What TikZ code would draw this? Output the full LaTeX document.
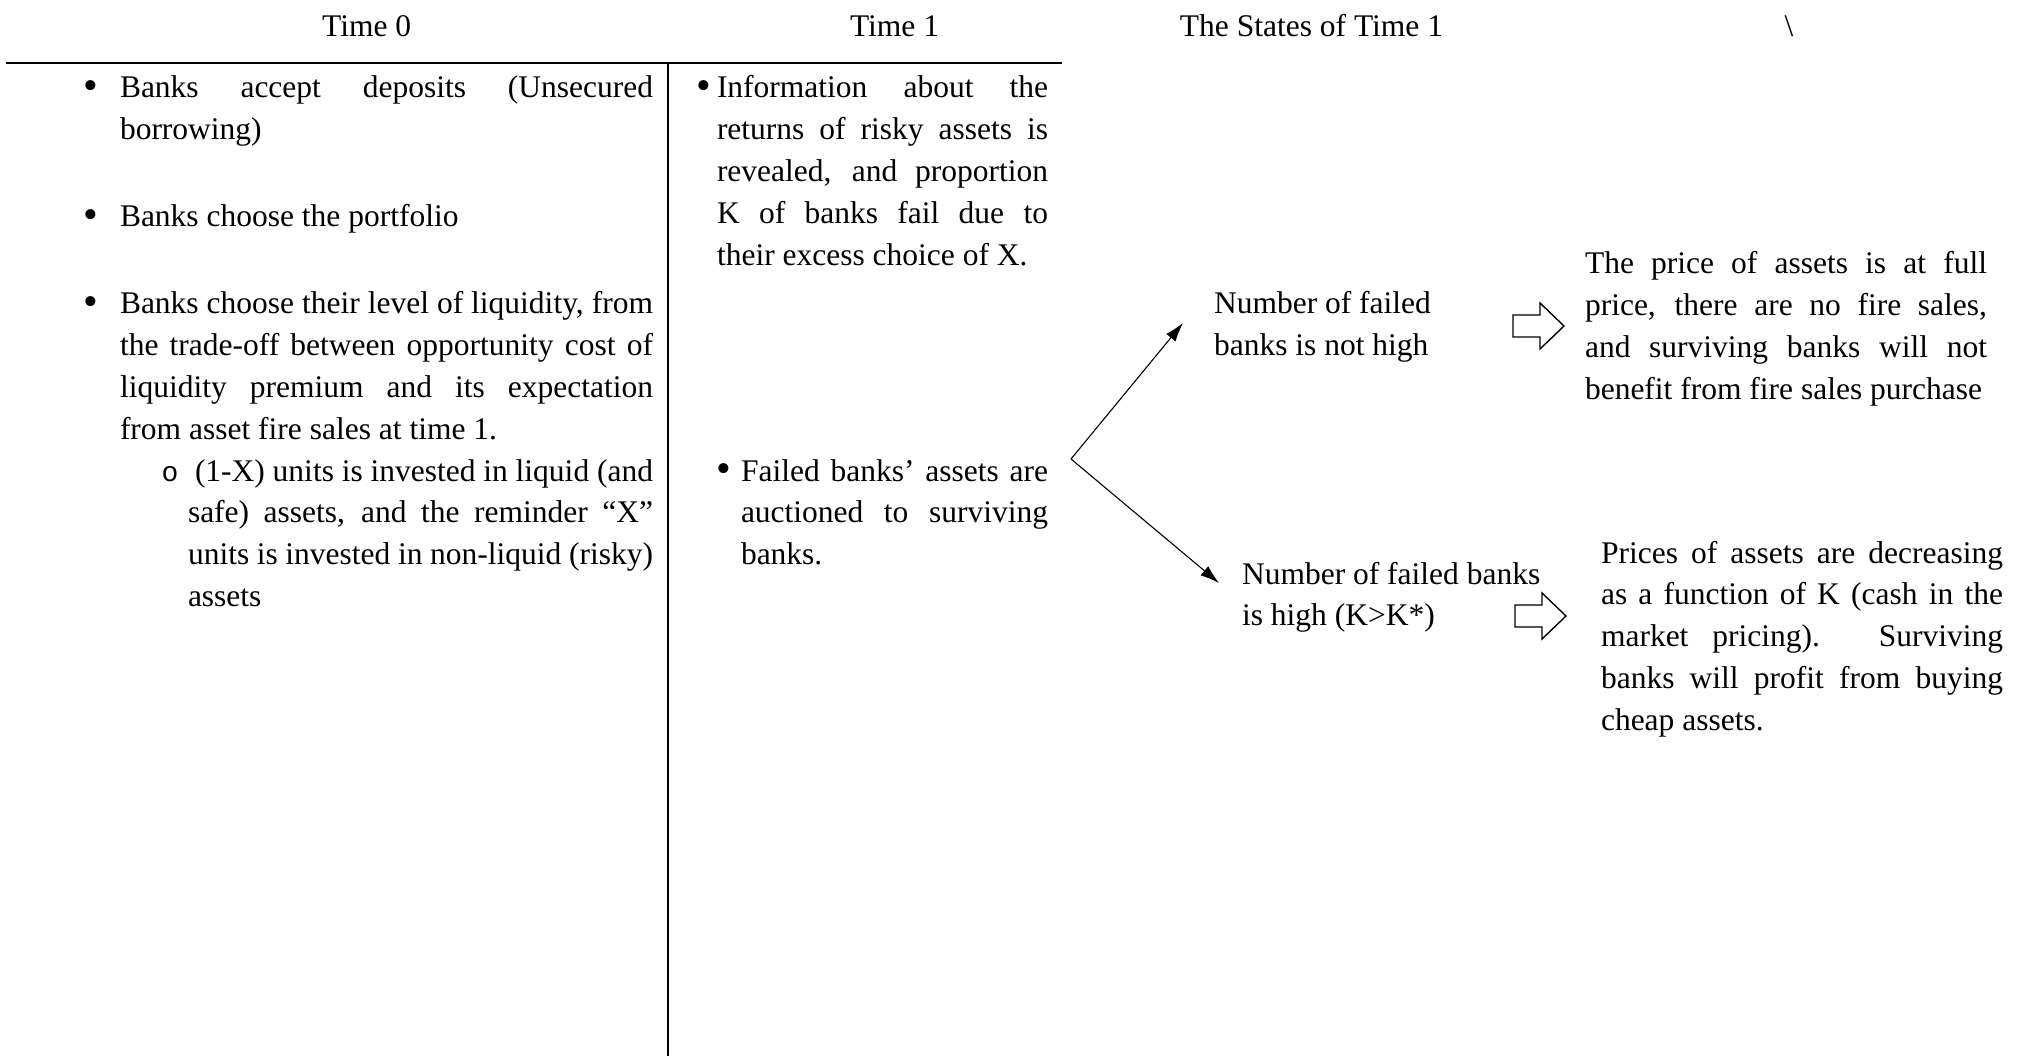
\documentclass[tikz,border=0pt]{standalone}
\usepackage{fontspec}
\setmainfont{Liberation Serif}
\newfontfamily\markfont{Liberation Mono}
\usetikzlibrary{arrows.meta}

% body text size and line pitch
\newcommand\bodysize{\fontsize{31.5}{41.8}\selectfont}
% justified paragraph of a given width, baseline on its first line
\newcommand\jpar[2]{\parbox[t]{#1}{\hyphenpenalty=10000\exhyphenpenalty=10000%
  \tolerance=10000\hbadness=10000 #2}}

\begin{document}
\begin{tikzpicture}[x=1pt,y=-1pt,
  every node/.style={inner sep=0pt, outer sep=0pt, font=\bodysize},
  head/.style={anchor=base},
  para/.style={anchor=base west},
  dot/.style={anchor=center, font=\fontsize{42}{42}\selectfont},
  ring/.style={anchor=base, font={\markfont\fontsize{28}{28}\selectfont}},
  rule/.style={line width=2.4pt},
  colrule/.style={line width=2pt},
  branch/.style={line width=1.1pt, -{Latex[length=19pt,width=12pt]}},
  blockarrow/.pic={\draw[line width=1.4pt, line join=miter]
    (0,-11) -- (27,-11) -- (27,-23) -- (51,0) -- (27,23) -- (27,11) -- (0,11) -- cycle;}
]
\useasboundingbox (0,0) rectangle (2024,1056);

% column headings
\node[head] (h0) at (366.6,37) {Time 0};
\node[head] (h1) at (894.5,37) {Time 1};
\node[head] (h2) at (1311.5,37) {The States of Time 1};
\node[head] (h3) at (1789,37) {\textbackslash};

% table rules
\coordinate (ruleL) at (6,63);
\coordinate (ruleR) at (1062,63);
\draw[rule] (ruleL) -- (ruleR);
\coordinate (colTop) at (668,63);
\coordinate (colBot) at (668,1056);
\draw[colrule] (colTop) -- (colBot);

% time 0
\node[dot] (b1) at (91,90) {•};
\node[para] (p1) at (120,98) {\jpar{533pt}{Banks accept deposits (Unsecured\linebreak borrowing)}};
\node[dot] (b2) at (91,219) {•};
\node[para] (p2) at (120,227) {\jpar{533pt}{Banks choose the portfolio}};
\node[dot] (b3) at (91,306) {•};
\node[para] (p3) at (120,314) {\jpar{533pt}{Banks choose their level of liquidity, from\linebreak
  the trade-off between opportunity cost of\linebreak
  liquidity premium and its expectation\linebreak
  from asset fire sales at time 1.}};
\node[ring] (s1) at (170,481) {o};
\node[para] (p4) at (188,481) {\jpar{465pt}{\hspace*{7pt}(1-X) units is invested in liquid (and\linebreak
  safe) assets, and the reminder “X”\linebreak
  units is invested in non-liquid (risky)\linebreak
  assets}};

% time 1
\node[dot] (b5) at (704,90) {•};
\node[para] (p5) at (717,98) {\jpar{331pt}{Information about the\linebreak
  returns of risky assets is\linebreak
  revealed, and proportion\linebreak
  K of banks fail due to\linebreak
  their excess choice of X.}};
\node[dot] (b6) at (724,473) {•};
\node[para] (p6) at (741,481) {\jpar{307pt}{Failed banks’ assets are\linebreak
  auctioned to surviving\linebreak
  banks.}};

% states of time 1
\node[para] (n1) at (1214,314) {\jpar{330pt}{Number of failed\\banks is not high}};
\node[para] (n2) at (1242,584) {\jpar{330pt}{Number of failed banks\\is high (K>K*)}};

\node[para] (r1) at (1585,274) {\jpar{402pt}{The price of assets is at full\linebreak
  price, there are no fire sales,\linebreak
  and surviving banks will not\linebreak
  benefit from fire sales purchase}};
\node[para] (r2) at (1601,563) {\jpar{402pt}{Prices of assets are decreasing\linebreak
  as a function of K (cash in the\linebreak
  market pricing). Surviving\linebreak
  banks will profit from buying\linebreak
  cheap assets.}};

% branching arrows
\coordinate (fork) at (1071,459);
\coordinate (tipUp) at (1183,323);
\coordinate (tipDown) at (1219,583);
\draw[branch] (fork) -- (tipUp);
\draw[branch] (fork) -- (tipDown);

% outcome arrows
\pic (a1) at (1513,326) {blockarrow};
\pic (a2) at (1515,616) {blockarrow};
\end{tikzpicture}
\end{document}
